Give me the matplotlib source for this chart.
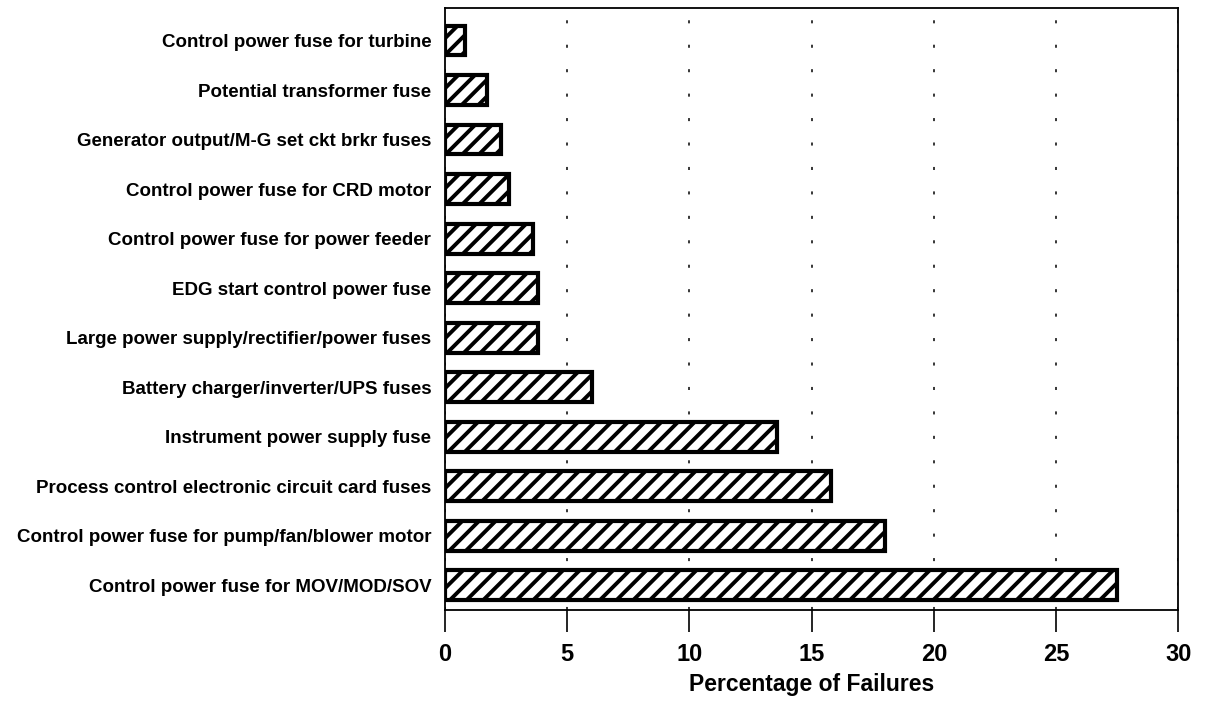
import matplotlib
matplotlib.use("Agg")
import matplotlib.pyplot as plt

categories = [
    "Control power fuse for MOV/MOD/SOV",
    "Control power fuse for pump/fan/blower motor",
    "Process control electronic circuit card fuses",
    "Instrument power supply fuse",
    "Battery charger/inverter/UPS fuses",
    "Large power supply/rectifier/power fuses",
    "EDG start control power fuse",
    "Control power fuse for power feeder",
    "Control power fuse for CRD motor",
    "Generator output/M-G set ckt brkr fuses",
    "Potential transformer fuse",
    "Control power fuse for turbine",
]
values = [27.5, 18.0, 15.8, 13.6, 6.0, 3.8, 3.8, 3.6, 2.6, 2.3, 1.7, 0.8]
xticks = [0, 5, 10, 15, 20, 25, 30]

plt.rcParams['font.family'] = ['Liberation Sans', 'DejaVu Sans']
plt.rcParams['hatch.linewidth'] = 2.8

fig = plt.figure(figsize=(12.06, 7.02), dpi=100)
ax = fig.add_axes([0.369, 0.131, 0.608, 0.857])

ypos = list(range(len(categories)))
ax.barh(ypos, values, height=0.6, color='white', edgecolor='black',
        linewidth=3, hatch='//', zorder=3)

ax.set_xlim(0, 30)
ax.set_ylim(-0.5, 11.65)
ax.set_xticks(xticks)
ax.set_xticklabels([str(t) for t in xticks], fontsize=17, fontweight='bold')
ax.set_yticks(ypos)
ax.set_yticklabels(categories, fontsize=13.5, fontweight='bold')
ax.tick_params(axis='y', length=0, pad=10)
ax.tick_params(axis='x', direction='out', length=16, width=1.2, pad=7.5)
ax.grid(axis='x', linestyle=(0, (2, 14)), color='black', linewidth=1.1, zorder=0)
for s in ax.spines.values():
    s.set_linewidth(1.3)
ax.set_xlabel("Percentage of Failures", fontsize=16.5, fontweight='bold', labelpad=5)

fig.savefig("out.png", dpi=100)
